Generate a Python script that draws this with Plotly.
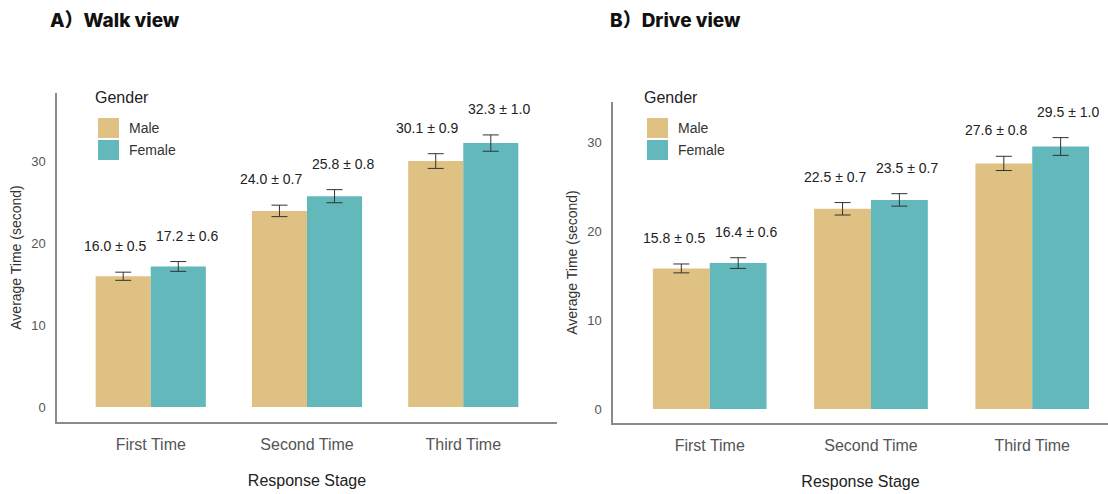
import plotly.graph_objects as go

# Response stages and gender groups
stages = ["First Time", "Second Time", "Third Time"]
genders = ["Male", "Female"]
colors = {"Male": "#E0C184", "Female": "#63B8BC"}

# Walk view: mean and standard error (seconds)
walk_male = [16.0, 24.0, 30.1]
walk_male_se = [0.5, 0.7, 0.9]
walk_female = [17.2, 25.8, 32.3]
walk_female_se = [0.6, 0.8, 1.0]

# Drive view: mean and standard error (seconds)
drive_male = [15.8, 22.5, 27.6]
drive_male_se = [0.5, 0.7, 0.8]
drive_female = [16.4, 23.5, 29.5]
drive_female_se = [0.6, 0.7, 1.0]

y_ticks = [0, 10, 20, 30]

W, H = 1108, 494
TEXT_FONT = "Liberation Sans, Arial, sans-serif"
TITLE_FONT = "Inter, Noto Sans CJK SC, sans-serif"

panels = [
    dict(title="A）Walk view", data={"Male": (walk_male, walk_male_se), "Female": (walk_female, walk_female_se)},
         xaxis="x", yaxis="y", px=(57, 557), py=(93, 422), xrange=[-0.6, 2.6], yrange=[-1.84, 38.43],
         title_x=48, legend_x=93),
    dict(title="B）Drive view", data={"Male": (drive_male, drive_male_se), "Female": (drive_female, drive_female_se)},
         xaxis="x2", yaxis="y2", px=(613, 1108), py=(102, 423), xrange=[-0.6, 2.47], yrange=[-1.57, 34.5],
         title_x=608, legend_x=642),
]

fig = go.Figure()
annotations = []
shapes = []

for p in panels:
    for g in genders:
        vals, se = p["data"][g]
        fig.add_trace(go.Bar(
            x=list(range(len(stages))), y=vals, name=g,
            marker=dict(color=colors[g], line=dict(width=0)),
            error_y=dict(type="data", array=se, visible=True, color="#333333", thickness=1, width=8),
            xaxis=p["xaxis"], yaxis=p["yaxis"], showlegend=False, offsetgroup=g,
        ))
        # value labels, placed just above the error bar
        shift = -36 if g == "Male" else 36
        for i, (v, e) in enumerate(zip(vals, se)):
            annotations.append(dict(
                x=i, y=v + e, xref=p["xaxis"], yref=p["yaxis"],
                text=f"{v:.1f} ± {e:.1f}", showarrow=False,
                xshift=shift, yshift=26, yanchor="middle",
                font=dict(family=TEXT_FONT, size=14, color="#222222"),
            ))

    # panel heading
    annotations.append(dict(
        x=p["title_x"] / W, y=1 - 20 / H, xref="paper", yref="paper",
        text=p["title"], showarrow=False, xanchor="left", yanchor="middle",
        font=dict(family=TITLE_FONT, size=19, color="#111111", weight=800),
    ))

    # legend block
    lx = p["legend_x"]
    annotations.append(dict(
        x=lx / W, y=1 - 97 / H, xref="paper", yref="paper", text="Gender",
        showarrow=False, xanchor="left", yanchor="middle",
        font=dict(family=TEXT_FONT, size=16, color="#222222"),
    ))
    for k, g in enumerate(genders):
        top = 118 + k * 22
        shapes.append(dict(
            type="rect", xref="paper", yref="paper",
            x0=(lx + 5) / W, x1=(lx + 26) / W, y0=1 - (top + 20) / H, y1=1 - top / H,
            fillcolor=colors[g], line=dict(width=0),
        ))
        annotations.append(dict(
            x=(lx + 34) / W, y=1 - (top + 10) / H, xref="paper", yref="paper", text=g,
            showarrow=False, xanchor="left", yanchor="middle",
            font=dict(family=TEXT_FONT, size=14, color="#333333"),
        ))

axis_common = dict(
    showline=True, linecolor="#8a8a8a", linewidth=1.5, showgrid=False, zeroline=False,
    ticks="outside", tickcolor="rgba(0,0,0,0)",
)

layout_axes = {}
for n, p in enumerate(panels):
    suffix = "" if n == 0 else str(n + 1)
    layout_axes["xaxis" + suffix] = dict(
        axis_common, domain=[p["px"][0] / W, min(p["px"][1] / W, 1.0)], range=p["xrange"],
        anchor="y" + suffix, tickvals=list(range(len(stages))), ticktext=stages, ticklen=7,
        tickfont=dict(family=TEXT_FONT, size=16, color="#555555"),
        title=dict(text="Response Stage", standoff=23, font=dict(family=TEXT_FONT, size=16, color="#222222")),
    )
    layout_axes["yaxis" + suffix] = dict(
        axis_common, domain=[1 - p["py"][1] / H, 1 - p["py"][0] / H], range=p["yrange"],
        anchor="x" + suffix, tickvals=y_ticks, ticklen=7,
        tickfont=dict(family=TEXT_FONT, size=13, color="#555555"),
        title=dict(text="Average Time (second)", standoff=6, font=dict(family=TEXT_FONT, size=14, color="#333333")),
    )

fig.update_layout(
    width=W, height=H, margin=dict(l=0, r=0, t=0, b=0),
    paper_bgcolor="white", plot_bgcolor="white",
    barmode="group", bargap=0.295, bargroupgap=0,
    annotations=annotations, shapes=shapes,
    **layout_axes,
)

fig.write_html("out.html")
